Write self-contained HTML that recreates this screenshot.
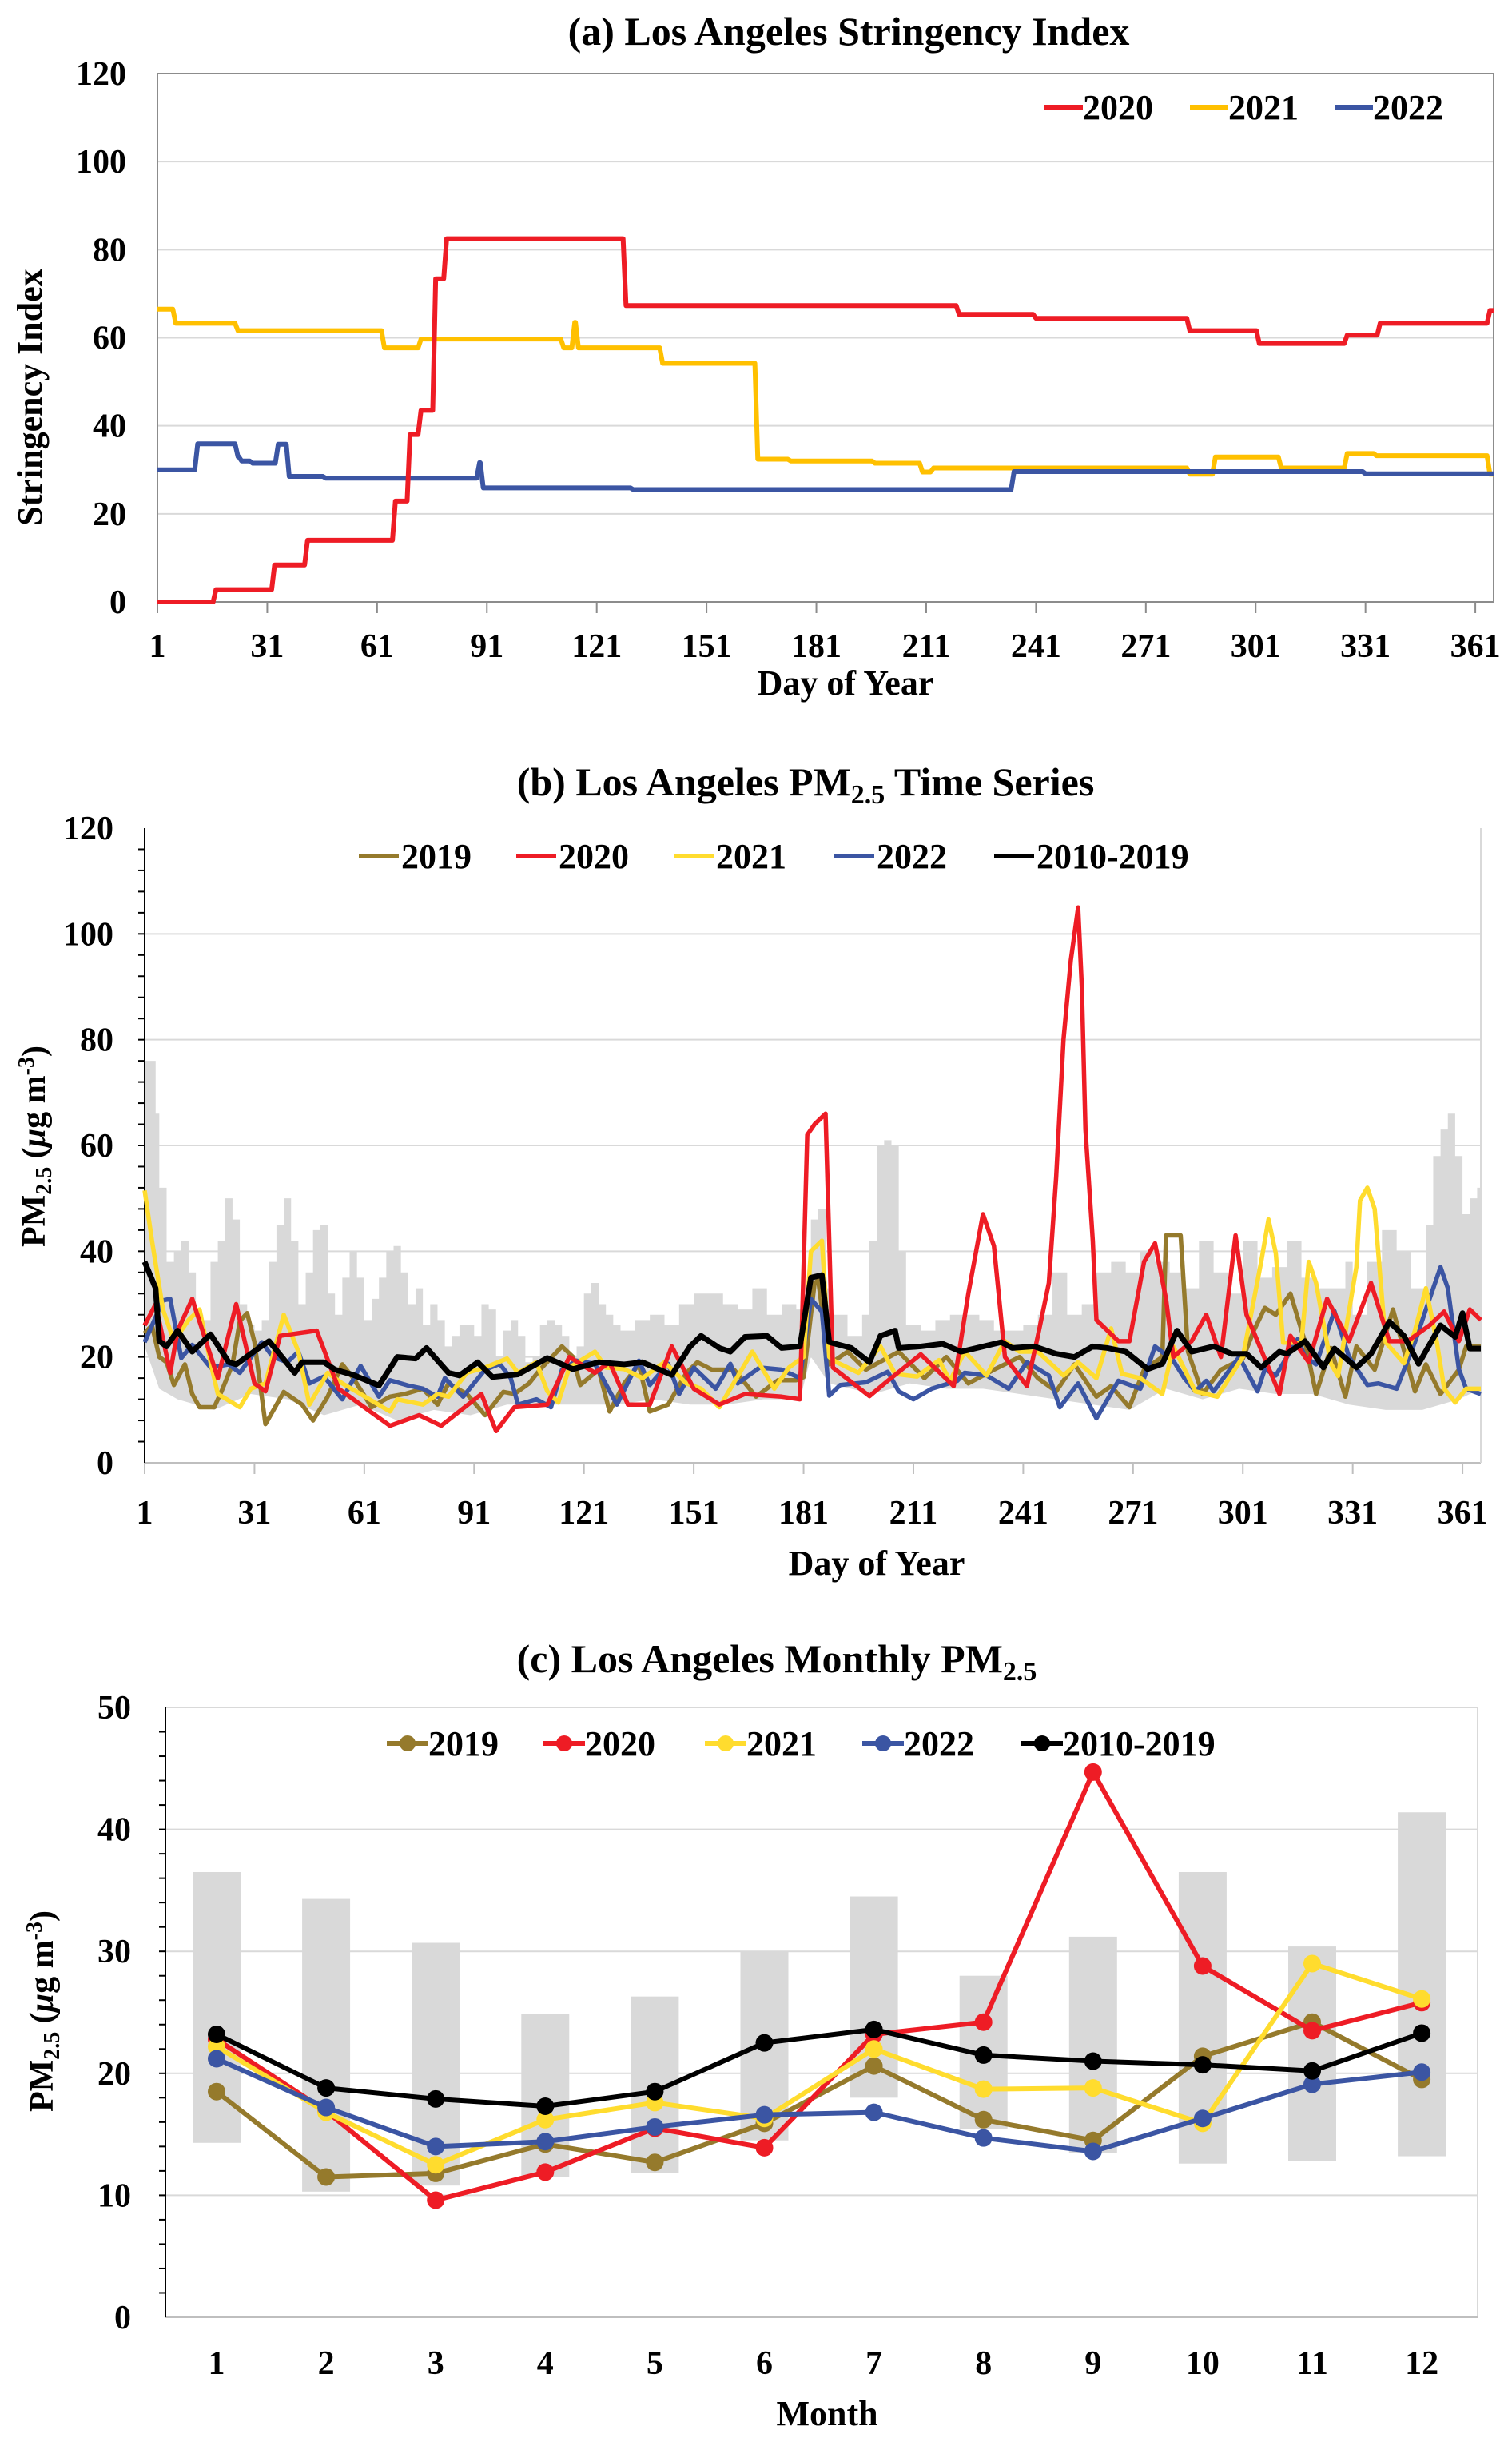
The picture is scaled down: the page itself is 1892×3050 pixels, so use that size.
<!DOCTYPE html>
<html><head><meta charset="utf-8"><title>Los Angeles Stringency and PM2.5</title>
<style>
html,body{margin:0;padding:0;background:#fff;}
svg{display:block;font-family:"Liberation Serif",serif;font-weight:bold;}
</style></head>
<body>
<svg id="fig" xmlns="http://www.w3.org/2000/svg" width="1892" height="3050" viewBox="0 0 1892 3050"></svg>
<script>
// ---------- Panel (a) data: stringency step change days and values ----------
const a2020Days = [1,17,33,42,66,70,73,77,80,129,220,241,283,302,326,335,365];
const a2020Vals = [0,2.8,8.4,14,22.9,38,43.5,73.4,82.5,67.3,65.3,64.4,61.6,58.7,60.6,63.3,66.2];
const a2021Days = [1,6,23,63,73,112,115,116,139,165,174,197,210,213,283,290,308,326,334,365];
const a2021Vals = [66.5,63.3,61.6,57.7,59.7,57.7,63.5,57.7,54.2,32.4,32,31.5,29.5,30.4,29,32.9,30.4,33.7,33.2,29];
const a2022Days = [1,12,23,24,27,34,37,47,89,90,131,235,331];
const a2022Vals = [30,35.9,33,32,31.5,35.8,28.5,28.1,31.6,25.9,25.5,29.6,29.1];
const aYTicks = [0,20,40,60,80,100,120];
const dayTicks = [1,31,61,91,121,151,181,211,241,271,301,331,361];

// ---------- Panel (b) data: daily PM2.5 (sampled) ----------
const b2019Days = [1,3,5,7,9,12,14,16,20,22,25,27,29,31,34,39,44,47,51,55,58,63,68,72,77,81,84,89,94,99,102,106,109,115,118,120,125,128,132,136,139,144,149,152,156,162,168,174,179,181,184,185,188,193,198,207,214,220,226,233,240,245,250,255,261,265,270,274,279,280,284,286,290,295,301,304,307,310,314,318,321,325,329,332,337,342,348,351,355,360,362,366];
const b2019Vals = [24.5,26,20,19,14.7,18.6,13,10.5,10.5,13.5,18.6,26.8,28.3,22.8,7.3,13.4,11,8,12.5,18.6,16,10.5,12.5,13,14,11,15,13,9,13.4,13,15,17.6,22,20,14.7,17.6,9.7,15,18.6,9.7,11,17,19,17.6,17.6,12.5,15.6,15.6,16.2,34,34.5,18.6,21,17.6,21,16,20,15,17.6,20,16,13.5,18.6,12.5,14.5,10.5,17.6,20,43,43,21,13,17.6,19.7,25,29.3,28,32,22.8,13,21.7,12.5,22,17.6,29,13.5,18.6,13,17.6,22,22];
const b2020Days = [1,4,8,10,14,21,26,31,34,38,48,54,60,68,76,82,93,97,102,111,117,124,128,133,139,145,151,158,165,175,180,182,184,187,189,199,204,213,222,226,230,233,236,242,245,248,250,252,254,256,257,258,260,261,267,270,274,277,280,282,287,291,295,299,302,311,314,319,324,330,336,341,346,352,356,360,363,366];
const b2020Vals = [26,30,17,25,31,16,30,15,13.5,24,25,14,11,7,9,7,13,6,10.5,11,20,17,19,11,11,22,14,11,13,12.5,12,62,64,66,18,12.6,15.5,20.5,14.5,32,47,41,20,14.5,24,34,54,80,95,105,90,63,42,27,23,23,38,41.5,31,20,23,28,20,43,28,13,24,19,31,23,34,23,23,26,28.6,23,29,27];
const b2021Days = [1,3,6,9,13,16,19,21,27,30,34,39,43,46,51,55,60,68,70,77,81,84,89,94,100,103,108,111,114,117,124,127,132,137,143,149,153,158,167,173,177,181,183,186,188,190,196,202,206,212,218,221,225,231,236,240,245,252,256,261,265,268,273,279,282,288,294,301,306,308,310,312,317,319,321,325,327,332,333,335,337,340,345,348,351,354,356,359,362,366];
const b2021Vals = [51.5,42,29,23,27,29,19,13,10.5,14,15,28,21,11,17,15,13,9.7,12,11,13,12.5,17,18,19.7,17,19,13.5,11.4,18,21,18,17.7,16,19,15,14,10.5,21,14,18,20,40,42,20,19,17,22,16.8,16.3,19.4,15.5,21,16.5,23,21,21,16.5,19,16,25.4,16.8,16,13,22,13.5,12.5,20,38,46,39.6,22.7,22.7,38,34,18.8,16.4,37,49.6,52,48,22.8,18.8,25,33,22.8,14,11.4,14,14];
const b2022Days = [1,6,8,11,14,19,24,27,33,36,40,43,46,50,55,60,65,68,73,77,81,83,88,94,98,101,103,108,112,115,119,124,130,136,139,144,147,151,157,161,163,169,175,180,183,186,188,191,198,204,207,211,216,223,225,231,237,242,248,251,256,261,267,273,277,282,285,288,291,293,300,305,307,310,316,318,321,326,330,335,338,343,348,351,355,357,360,362,366];
const b2022Vals = [22.8,30.7,31,19.8,22.3,18,18.6,17,22.8,20,19,21,15,16.3,12,18.3,12.5,15.6,14.6,14,12.5,16,12.5,17.6,18.7,16,11,12,10.5,17.6,19.3,18.7,11,19.3,14.7,18.7,13,18,14,18.7,15,18,17.6,16,31,28.6,12.7,14.7,15.2,17.2,13.5,12,14,15.5,17,16.5,14,19,16.5,10.5,15,8.4,15.5,14,22,19.3,16,13.5,15.5,13.5,20,13.5,17.7,16.5,23.4,20,18.6,28.7,20,14.7,15,14,22.8,29,37,33,17.7,14,13];
const bClimDays = [1,4,5,7,10,14,19,24,26,32,35,42,44,50,53,58,65,70,75,78,84,87,92,96,103,111,118,125,132,137,145,150,153,158,161,165,171,175,180,183,186,188,194,199,202,206,207,213,219,224,235,238,244,250,255,260,264,269,275,279,283,287,293,298,302,306,311,313,318,323,326,332,336,341,345,349,355,359,361,363,366];
const bClimVals = [38,33,23,22,25,21,24.3,19,18.6,21.6,23,17,19,19,17.6,16.6,14.6,20,19.7,21.7,17,16.5,19,16.2,16.7,19.8,17.7,19,18.6,19,16.6,22,24,21.7,21,23.8,24,21.7,22,35,35.5,22.8,21.7,19,24,25,21.7,22,22.5,21,22.8,21.7,22,20.6,20,22,21.7,21,17.7,18.7,25,21,22,20.6,20.6,18,21,20.6,23,18,21.6,18,20.6,26.7,24,18.7,26,23.8,28.3,21.6,21.6];
const bRangeDays = [1,4,5,7,9,11,13,15,17,19,21,23,25,27,29,31,33,35,37,39,41,43,45,47,49,51,53,55,57,59,61,63,65,67,69,71,73,75,77,79,81,83,85,87,89,91,93,95,97,99,101,103,105,107,109,111,113,115,117,119,121,123,125,127,129,131,135,139,143,147,151,155,159,163,167,171,175,179,181,183,185,187,189,193,197,199,201,203,205,207,209,213,217,221,225,229,233,237,241,245,249,253,257,261,265,269,273,277,281,285,289,293,297,301,305,309,313,317,321,325,329,331,335,339,343,347,351,353,355,357,359,361,363,365,366];
const bRangeHi = [76,66,52,38,40,42,36,28,27,38,42,50,46,30,26,25,27,38,45,50,42,30,36,44,45,32,28,35,40,35,27,31,35,40,41,36,30,33,26,30,27,22,24,26,26,24,30,29,20,25,27,24,19,20,26,27,26,24,20,22,32,34,30,28,26,25,27,28,26,30,32,32,30,29,33,28,30,29,30,46,48,33,28,24,28,42,60,61,60,40,26,25,27,28,28,27,25,25,26,28,36,28,30,36,38,36,40,38,36,33,42,36,32,42,35,37,42,35,33,33,38,28,38,44,40,33,45,58,63,66,58,47,50,52,40];
const bRangeLoDays = [1,5,10,20,30,40,50,60,70,80,90,100,110,120,130,140,150,160,170,180,183,188,200,210,220,230,240,250,260,270,280,290,300,310,320,330,340,350,360,366];
const bRangeLo = [22,14,12,10,13,12,9,11,8,10,9,11,11,11,11,12,11,11,12,12,20,15,13,15,14,14,13,12,11,10,14,12,14,13,13,11,10,10,12,14];
const bYTicks = [0,20,40,60,80,100,120];

// ---------- Panel (c) data: monthly PM2.5 ----------
const months = [1,2,3,4,5,6,7,8,9,10,11,12];
const c2019 = [18.5,11.5,11.8,14.2,12.7,15.9,20.6,16.2,14.5,21.4,24.2,19.5];
const c2020 = [22.8,16.9,9.6,11.9,15.5,13.9,23.2,24.2,44.7,28.8,23.5,25.8];
const c2021 = [22.2,16.8,12.5,16.2,17.6,16.3,22.0,18.7,18.8,15.9,29.0,26.1];
const c2022 = [21.2,17.2,14.0,14.4,15.6,16.6,16.8,14.7,13.6,16.3,19.1,20.1];
const cClim = [23.2,18.8,17.9,17.3,18.5,22.5,23.6,21.5,21.0,20.7,20.2,23.3];
const cRangeHi = [36.5,34.3,30.7,24.9,26.3,30.0,34.5,28.0,31.2,36.5,30.4,41.4];
const cRangeLo = [14.3,10.3,10.8,11.5,11.8,14.5,18.0,15.4,13.5,12.6,12.8,13.2];
const cYTicks = [0,10,20,30,40,50];

const NS = "http://www.w3.org/2000/svg";
const svg = document.getElementById('fig');
function mk(tag, attrs, parent){
  const e = document.createElementNS(NS, tag);
  for (const k in attrs) e.setAttribute(k, attrs[k]);
  (parent || svg).appendChild(e);
  return e;
}
function txt(x, y, s, size, anchor, parent){
  const t = mk('text', {x:x, y:y, 'font-size':size, 'text-anchor':anchor||'middle', fill:'#000'}, parent);
  t.textContent = s;
  return t;
}
const RED='#ee1c25', YEL_A='#ffc000', YEL='#ffdc2e', BLUE='#3b55a3', BROWN='#957a2c', GRAY='#d9d9d9';

// ================= Panel (a) =================
const ga = mk('g', {});


const aL=197, aR=1869, aT=92, aB=753;
const xa = d => aL + (d-1)*(aR-aL)/365;
const ya = v => aB - v*(aB-aT)/120;
let t = txt(1062, 56, '(a) Los Angeles Stringency Index', 50, 'middle', ga);


aYTicks.forEach(v => {
  if (v>0 && v<120) {
    const g = mk('line', {x1:aL, x2:aR, y1:ya(v), y2:ya(v), stroke:'#d9d9d9', 'stroke-width':2}, ga);
    
    
  }
  const l = txt(158, ya(v)+14, String(v), 42, 'end', ga);
  
  
});
let fr = mk('rect', {x:aL, y:aT, width:aR-aL, height:aB-aT, fill:'none', stroke:'#8c8c8c', 'stroke-width':2}, ga);


dayTicks.forEach(d => {
  const tk = mk('line', {x1:xa(d), x2:xa(d), y1:aB, y2:aB+14, stroke:'#8c8c8c', 'stroke-width':2}, ga);
  
  
  const l = txt(xa(d), 822, String(d), 42, 'middle', ga);
  
  
});
t = txt(1058, 869, 'Day of Year', 44, 'middle', ga);


t = txt(0, 0, 'Stringency Index', 44, 'middle', ga);
t.setAttribute('transform', 'translate(52,497) rotate(-90)');


function stepPath(days, vals){
  let p = 'M'+xa(days[0])+','+ya(vals[0]);
  for (let i=1;i<days.length;i++){
    p += ' L'+xa(days[i]-0.8)+','+ya(vals[i-1]) + ' L'+xa(days[i])+','+ya(vals[i]);
  }
  p += ' L'+xa(366)+','+ya(vals[vals.length-1]);
  return p;
}
let s = mk('path', {d:stepPath(a2021Days,a2021Vals), fill:'none', stroke:YEL_A, 'stroke-width':6, 'stroke-linejoin':'round'}, ga);


s = mk('path', {d:stepPath(a2022Days,a2022Vals), fill:'none', stroke:BLUE, 'stroke-width':6, 'stroke-linejoin':'round'}, ga);


s = mk('path', {d:stepPath(a2020Days,a2020Vals), fill:'none', stroke:RED, 'stroke-width':6, 'stroke-linejoin':'round'}, ga);


[[1307,RED,'2020'],[1489,YEL_A,'2021'],[1670,BLUE,'2022']].forEach(e => {
  const g = mk('g', {}, ga);
  
  
  mk('line', {x1:e[0], x2:e[0]+48, y1:134, y2:134, stroke:e[1], 'stroke-width':6}, g);
  txt(e[0]+48, 149, e[2], 44, 'start', g);
});

// ================= Panel (b) =================
const gb = mk('g', {});


const bL=181, bR=1853, bT=1036, bB=1830;
const xb = d => bL + (d-1)*(bR-bL)/365;
const yb = v => bB - v*(bB-bT)/120;
t = txt(1008, 995, '(b) Los Angeles PM', 50, 'middle', gb);
const sb = mk('tspan', {'font-size':34, dy:10}, t); sb.textContent='2.5';
const sb2 = mk('tspan', {dy:-10}, t); sb2.textContent=' Time Series';


bYTicks.forEach(v => {
  if (v>0 && v<120) {
    const g = mk('line', {x1:bL, x2:bR, y1:yb(v), y2:yb(v), stroke:'#d9d9d9', 'stroke-width':2}, gb);
    
    
  }
  const l = txt(142, yb(v)+14, String(v), 42, 'end', gb);
  
  
});
for (let v=4; v<120; v+=4){
  const mt = mk('line', {x1:bL-8, x2:bL, y1:yb(v), y2:yb(v), stroke:'#000', 'stroke-width':2}, gb);
  
  
}
// gray range area (stepped top)
let rp = '';
bRangeDays.forEach((d,i) => {
  if (i===0) rp += 'M'+xb(d)+','+yb(bRangeHi[i]);
  else rp += ' L'+xb(d)+','+yb(bRangeHi[i-1])+' L'+xb(d)+','+yb(bRangeHi[i]);
});
for (let i=bRangeLoDays.length-1;i>=0;i--) rp += ' L'+xb(bRangeLoDays[i])+','+yb(bRangeLo[i]);
s = mk('path', {d:rp+' Z', fill:GRAY, stroke:'none'}, gb);


let ax = mk('line', {x1:bL, x2:bR, y1:bB, y2:bB, stroke:'#bfbfbf', 'stroke-width':2}, gb);


ax = mk('line', {x1:bL, x2:bL, y1:bT, y2:bB, stroke:'#000', 'stroke-width':2}, gb);


ax = mk('line', {x1:bR, x2:bR, y1:bT, y2:bB, stroke:'#d9d9d9', 'stroke-width':2}, gb);


dayTicks.forEach(d => {
  const tk = mk('line', {x1:xb(d), x2:xb(d), y1:bB, y2:bB+14, stroke:'#bfbfbf', 'stroke-width':2}, gb);
  
  
  const l = txt(xb(d), 1906, String(d), 42, 'middle', gb);
  
  
});
t = txt(1097, 1970, 'Day of Year', 44, 'middle', gb);


function yTitle(parent, cx, cy){
  const tt = txt(0, 0, 'PM', 42, 'middle', parent);
  const a = mk('tspan', {'font-size':28, dy:8}, tt); a.textContent='2.5';
  const b = mk('tspan', {dy:-8}, tt); b.textContent=' (';
  const c = mk('tspan', {'font-style':'italic'}, tt); c.textContent='μ';
  const d = mk('tspan', {}, tt); d.textContent='g m';
  const e = mk('tspan', {'font-size':28, dy:-14}, tt); e.textContent='-3';
  const f = mk('tspan', {dy:14}, tt); f.textContent=')';
  tt.setAttribute('transform', 'translate('+cx+','+cy+') rotate(-90)');
  return tt;
}
t = yTitle(gb, 56, 1434);


function linePath(xs, ys, fx, fy){
  return xs.map((d,i) => (i?'L':'M')+fx(d)+','+fy(ys[i])).join(' ');
}
[[b2019Days,b2019Vals,BROWN,'line-2019-pm25'],[b2022Days,b2022Vals,BLUE,'line-2022-pm25'],[b2021Days,b2021Vals,YEL,'line-2021-pm25'],[b2020Days,b2020Vals,RED,'line-2020-pm25'],[bClimDays,bClimVals,'#000','line-2010-2019-pm25']].forEach(sr => {
  const p = mk('path', {d:linePath(sr[0],sr[1],xb,yb), fill:'none', stroke:sr[2], 'stroke-width':sr[2]==='#000'?7:5.5, 'stroke-linejoin':'round'}, gb);
  
  
});
[[449,BROWN,'2019'],[646,RED,'2020'],[843,YEL,'2021'],[1044,BLUE,'2022'],[1244,'#000','2010-2019']].forEach(e => {
  const g = mk('g', {}, gb);
  
  
  mk('line', {x1:e[0], x2:e[0]+50, y1:1071, y2:1071, stroke:e[1], 'stroke-width':6}, g);
  txt(e[0]+53, 1086, e[2], 44, 'start', g);
});

// ================= Panel (c) =================
const gc = mk('g', {});


const cL=207, cR=1849, cT=2136, cB=2899;
const xc = m => 271 + (m-1)*137.1;
const yc = v => cB - v*(cB-cT)/50;
t = txt(972, 2092, '(c) Los Angeles Monthly PM', 50, 'middle', gc);
const sc = mk('tspan', {'font-size':34, dy:10}, t); sc.textContent='2.5';


cYTicks.forEach(v => {
  if (v>0) {
    const g = mk('line', {x1:cL, x2:cR, y1:yc(v), y2:yc(v), stroke:'#d9d9d9', 'stroke-width':2}, gc);
    
    
  }
  const l = txt(164, yc(v)+14, String(v), 42, 'end', gc);
  
  
});
for (let v=2; v<50; v+=2){
  const mt = mk('line', {x1:cL-8, x2:cL, y1:yc(v), y2:yc(v), stroke:'#000', 'stroke-width':2}, gc);
  
  
}
ax = mk('line', {x1:cR, x2:cR, y1:cT, y2:cB, stroke:'#d9d9d9', 'stroke-width':2}, gc);


months.forEach((m,i) => {
  const r = mk('rect', {x:xc(m)-30, y:yc(cRangeHi[i]), width:60, height:yc(cRangeLo[i])-yc(cRangeHi[i]), fill:GRAY}, gc);
  
  
  const l = txt(xc(m), 2970, String(m), 42, 'middle', gc);
  
  
});
ax = mk('line', {x1:cL, x2:cR, y1:cB, y2:cB, stroke:'#bfbfbf', 'stroke-width':2}, gc);


ax = mk('line', {x1:cL, x2:cL, y1:cT, y2:cB, stroke:'#000', 'stroke-width':2}, gc);


t = txt(1035, 3034, 'Month', 44, 'middle', gc);


t = yTitle(gc, 66, 2516);


[[c2019,BROWN,'2019'],[c2020,RED,'2020'],[c2021,YEL,'2021'],[c2022,BLUE,'2022'],[cClim,'#000','2010-2019']].forEach(sr => {
  const g = mk('g', {}, gc);
  
  
  mk('path', {d:linePath(months,sr[0],xc,yc), fill:'none', stroke:sr[1], 'stroke-width':6, 'stroke-linejoin':'round'}, g);
  months.forEach((m,i) => {
    const c = mk('circle', {cx:xc(m), cy:yc(sr[0][i]), r:11, fill:sr[1]}, g);
    
    
  });
});
[[484,BROWN,'2019'],[680,RED,'2020'],[882,YEL,'2021'],[1079,BLUE,'2022'],[1278,'#000','2010-2019']].forEach(e => {
  const g = mk('g', {}, gc);
  
  
  mk('line', {x1:e[0], x2:e[0]+52, y1:2181, y2:2181, stroke:e[1], 'stroke-width':6}, g);
  mk('circle', {cx:e[0]+26, cy:2181, r:10, fill:e[1]}, g);
  txt(e[0]+52, 2196, e[2], 44, 'start', g);
});
</script>
</body></html>
